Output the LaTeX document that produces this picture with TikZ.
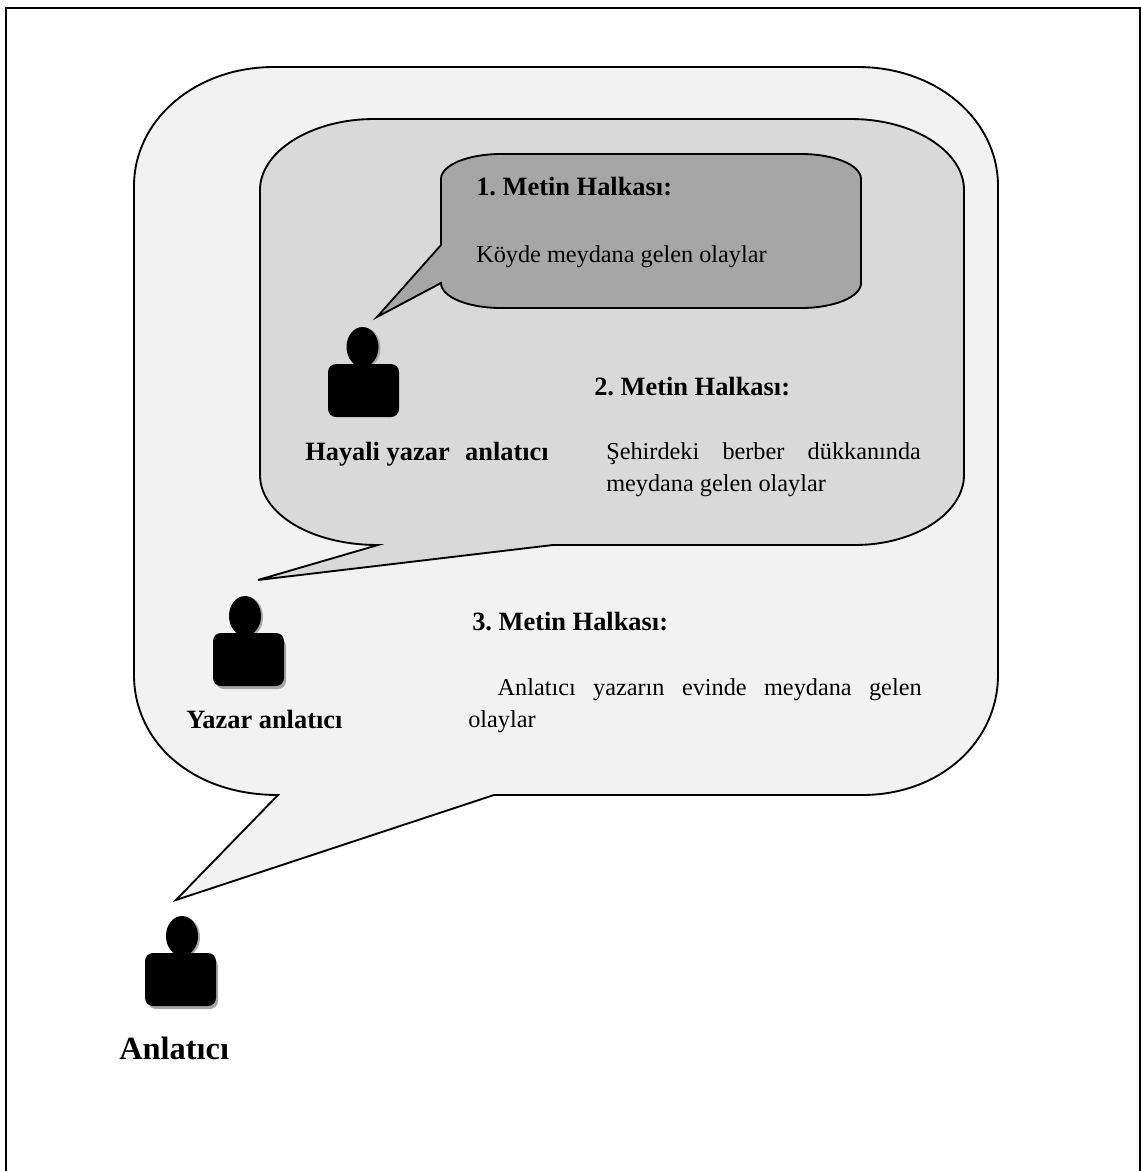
\documentclass[tikz,border=0pt]{standalone}
\usepackage{fontspec}
\setmainfont{Liberation Serif}
\tikzset{
  bubble/.style={draw=black, line width=1.4pt, line join=miter},
  label/.style={anchor=base west, inner sep=0pt, font=\fontsize{18.2}{24}\selectfont\frenchspacing},
  title/.style={label, font=\fontsize{19.8}{24}\selectfont\bfseries\frenchspacing},
  para/.style={label, align=justify, anchor=north west},
}
\begin{document}
\begin{tikzpicture}[x=0.75pt, y=-0.75pt]
\useasboundingbox (0, 0) rectangle (1141, 1171);
\draw [line width=1.5pt] (5.5, 1171) -- (5.5, 7.5) -- (1140, 7.5) -- (1140, 1171);
% outer bubble
\draw [bubble, fill=black!5] (134, 186) .. controls (134, 120) and (195, 67) .. (274, 67) -- (858, 67)
  .. controls (937, 67) and (998, 120) .. (998, 186) -- (998, 675)
  .. controls (998, 741) and (941, 795) .. (862, 795) -- (494, 795) -- (176, 900) -- (278, 795)
  .. controls (191, 795) and (134, 741) .. (134, 675) -- cycle;
% middle bubble
\draw [bubble, fill=black!15] (260, 190) .. controls (260, 151) and (312, 119) .. (374, 119) -- (851, 119)
  .. controls (913, 119) and (964, 151) .. (964, 190) -- (964, 475)
  .. controls (964, 513) and (915, 545) .. (855, 545) -- (553, 545) -- (258, 580) -- (378, 545)
  .. controls (310, 545) and (260, 513) .. (260, 475) -- cycle;
% inner bubble
\draw [bubble, fill=black!35] (441, 179) .. controls (441, 165) and (468, 154) .. (501, 154) -- (801, 154)
  .. controls (834, 154) and (861, 165) .. (861, 179) -- (861, 283)
  .. controls (861, 297) and (834, 308) .. (801, 308) -- (501, 308)
  .. controls (468, 308) and (441, 297) .. (441, 283) -- (377, 317) -- (441, 245) -- cycle;
% persons
\foreach \x/\y/\h/\s in {328/327/34.5/0, 213/596/32/1, 145/916/37/1} {
  \fill [black!35, opacity=\s, rounded corners=6pt] (\x+3, \y+42) rectangle (\x+73, \y+93);
  \fill [black!35] (\h+\x+2, \y+21) circle [x radius=16, y radius=20];
  \fill [black] (\h+\x, \y+20) circle [x radius=16, y radius=20];
  \fill [black, rounded corners=6pt] (\x, \y+37) rectangle (\x+71, \y+90);
}
\node [title] (halka1) at (476, 195) {1. Metin Halkası:};
\node [label] (koy) at (476, 262) {Köyde meydana gelen olaylar};
\node [title] (halka2) at (594, 395.5) {2. Metin Halkası:};
\node [para, text width=236pt] (berber) at (606, 442.5) {Şehirdeki berber dükkanında\linebreak meydana gelen olaylar};
\node [title] (hayali) at (305, 460) {Hayali yazar\,\, anlatıcı};
\node [title] (halka3) at (472, 630) {3. Metin Halkası:};
\node [para, text width=340pt] (ev) at (468, 678) {\hspace*{22pt}Anlatıcı yazarın evinde meydana gelen\linebreak olaylar};
\node [title] (yazar) at (186, 728) {Yazar anlatıcı};
\node [title, font=\fontsize{24.3}{28}\selectfont\bfseries] (anlatici) at (119, 1059) {Anlatıcı};
\end{tikzpicture}
\end{document}
